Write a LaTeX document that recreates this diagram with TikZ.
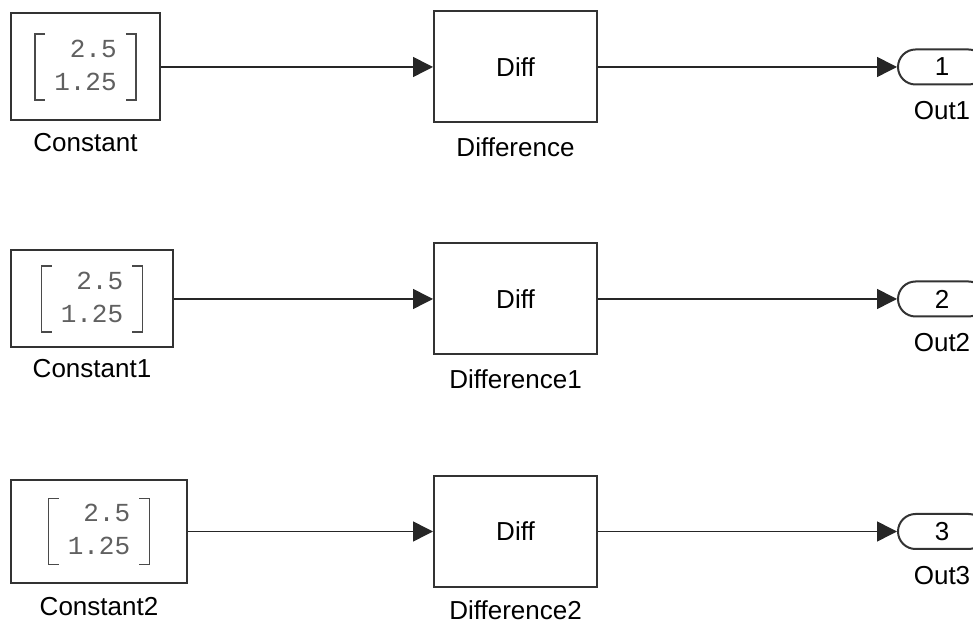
\documentclass[tikz,border=0pt]{standalone}
\usepackage{fontspec}
\setmainfont{Liberation Sans}
\setmonofont{Liberation Mono}
\usetikzlibrary{positioning,arrows.meta,shapes.misc}

\definecolor{blockline}{HTML}{333333}
\definecolor{valgray}{HTML}{606060}
\definecolor{brackgray}{HTML}{4A4A4A}

\tikzset{
  block/.style={draw=blockline, line width=2pt, fill=white, inner sep=0pt},
  constval/.style={inner xsep=19pt, inner ysep=0pt, text=valgray, font=\fontsize{26}{33}\selectfont\ttfamily},
  bracket/.style={draw=brackgray, line width=1.5pt},
  outport/.style={draw=blockline, line width=2pt, rounded rectangle, minimum width=88pt, minimum height=35pt, inner sep=0pt},
  blocklabel/.style={inner sep=0pt},
  signal/.style={draw=black!85, line width=1.5pt, -{Triangle[length=20pt,width=20pt]}},
}

% square brackets round a constant value node
\newcommand{\constbrackets}[1]{%
  \draw[bracket] ([xshift=10pt]#1.north west) -- (#1.north west) -- (#1.south west) -- ([xshift=10pt]#1.south west);
  \draw[bracket] ([xshift=-10pt]#1.north east) -- (#1.north east) -- (#1.south east) -- ([xshift=-10pt]#1.south east);
}

\begin{document}
\begin{tikzpicture}[x=1pt, y=1pt, font=\fontsize{26}{31}\selectfont]
\useasboundingbox (0,0) rectangle (973,623);
\clip (0,0) rectangle (973,623);
% Row 1
\node[block, minimum width=149pt, minimum height=107pt] (const) at (85.5,556) {};
\node[constval] (constval) at (const) {\begin{tabular}{@{}r@{}}2.5\\1.25\end{tabular}};
\constbrackets{constval}
\node[blocklabel, below=12pt of const] (constlbl) {Constant};
\node[block, minimum width=163pt, minimum height=111pt] (diff) at (515.5,556) {Diff};
\node[blocklabel, below=14pt of diff] (difflbl) {Difference};
\node[outport] (out1) at (942,556) {1};
\node[blocklabel, below=16pt of out1] (out1lbl) {Out1};
\draw[signal] (const.east) -- (diff.west);
\draw[signal] (diff.east) -- (out1.west);
% Row 2
\node[block, minimum width=162pt, minimum height=97pt] (constA) at (92,324) {};
\node[constval] (constAval) at (constA) {\begin{tabular}{@{}r@{}}2.5\\1.25\end{tabular}};
\constbrackets{constAval}
\node[blocklabel, below=11pt of constA] (constAlbl) {Constant1};
\node[block, minimum width=163pt, minimum height=111pt] (diffA) at (515.5,324) {Diff};
\node[blocklabel, below=14pt of diffA] (diffAlbl) {Difference1};
\node[outport] (out2) at (942,324) {2};
\node[blocklabel, below=16pt of out2] (out2lbl) {Out2};
\draw[signal] (constA.east) -- (diffA.west);
\draw[signal] (diffA.east) -- (out2.west);
% Row 3
\node[block, minimum width=176pt, minimum height=103pt] (constB) at (99,91.5) {};
\node[constval] (constBval) at (constB) {\begin{tabular}{@{}r@{}}2.5\\1.25\end{tabular}};
\constbrackets{constBval}
\node[blocklabel, below=13pt of constB] (constBlbl) {Constant2};
\node[block, minimum width=163pt, minimum height=111pt] (diffB) at (515.5,91.5) {Diff};
\node[blocklabel, below=12pt of diffB] (diffBlbl) {Difference2};
\node[outport] (out3) at (942,91.5) {3};
\node[blocklabel, below=16pt of out3] (out3lbl) {Out3};
\draw[signal] (constB.east) -- (diffB.west);
\draw[signal] (diffB.east) -- (out3.west);
\end{tikzpicture}
\end{document}
